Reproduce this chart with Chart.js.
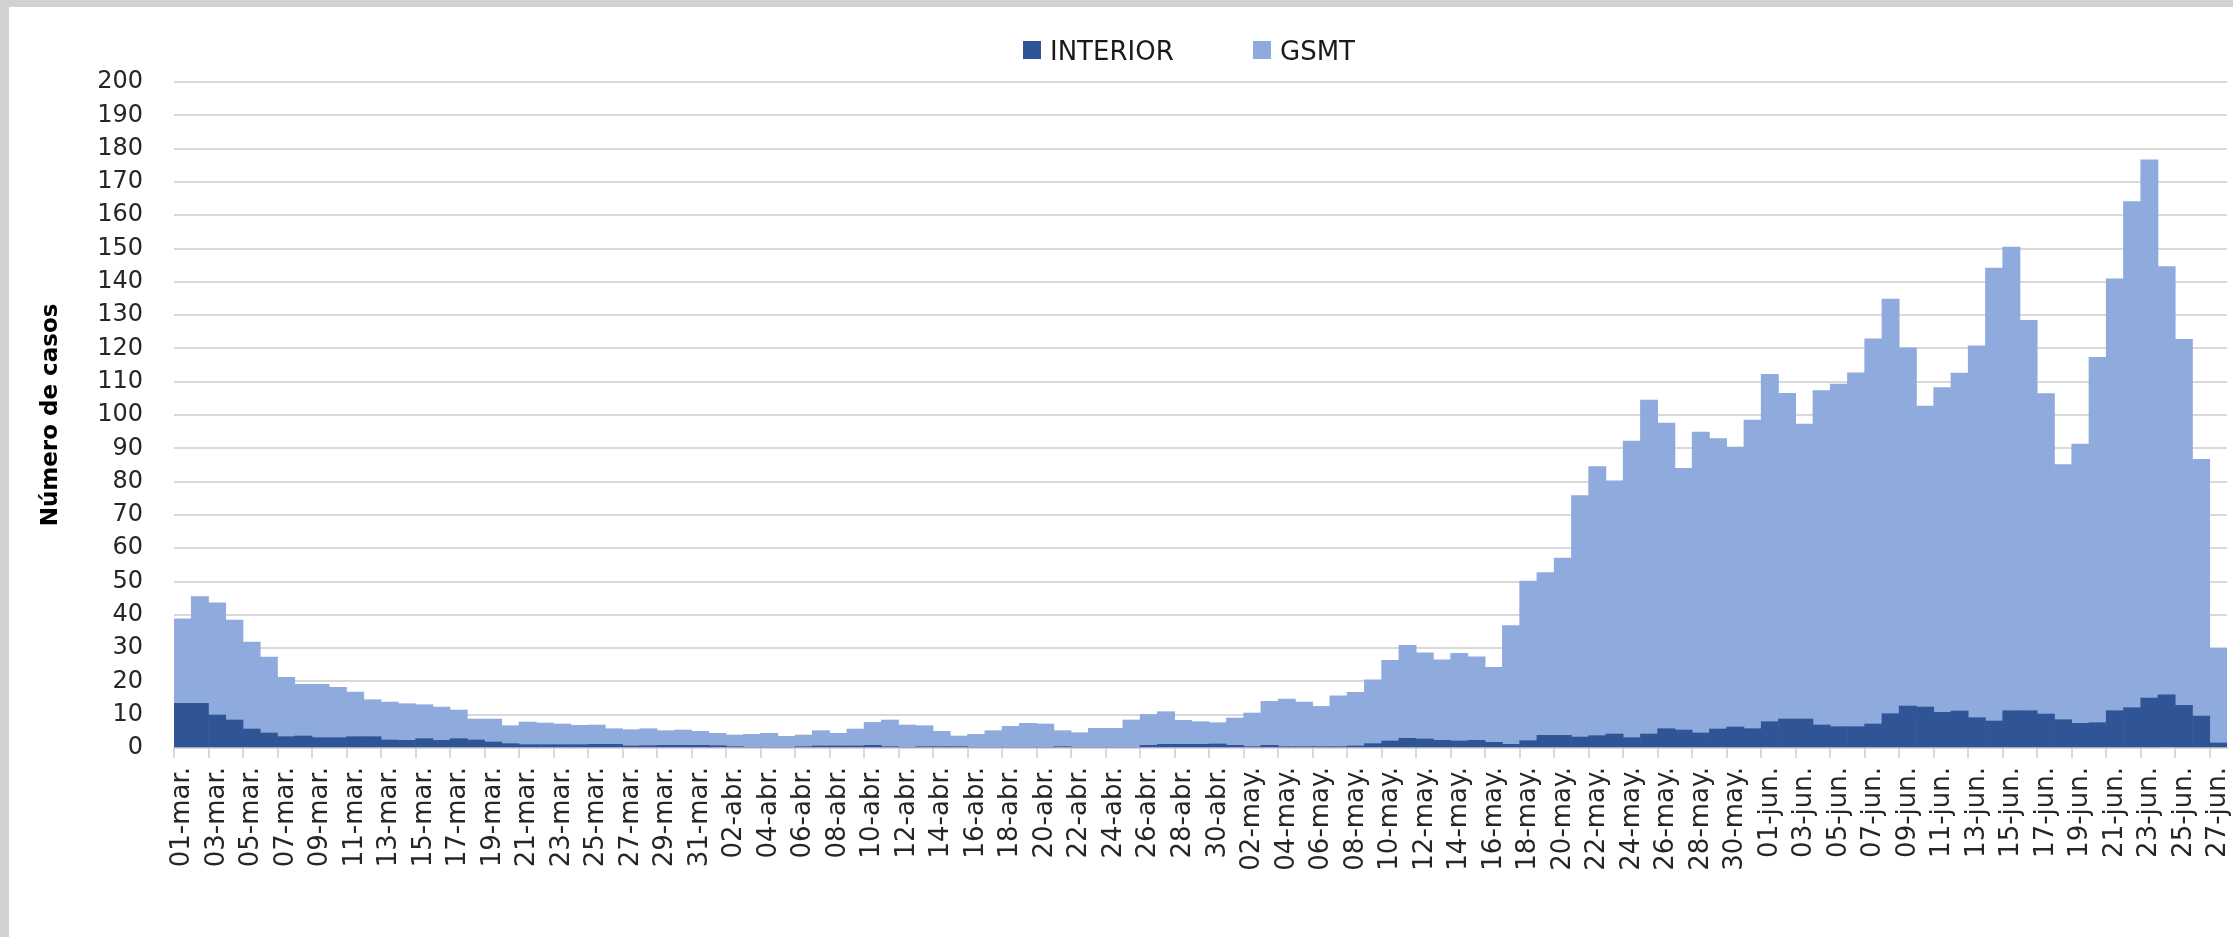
<!DOCTYPE html>
<html>
<head>
<meta charset="utf-8">
<script src="https://cdn.jsdelivr.net/npm/chart.js@4/dist/chart.umd.min.js"></script>
<style>
html,body{margin:0;padding:0;width:2233px;height:937px;overflow:hidden;background:#d2d2d2;}
#frame{position:absolute;left:9px;top:7px;width:2224px;height:930px;background:#ffffff;}
#frame canvas{position:absolute;left:0;top:0;}
.lgbox{position:absolute;width:18px;height:18px;top:41px;}
.lgtxt{position:absolute;top:36px;line-height:30px;font-family:"DejaVu Sans";font-size:26px;color:#1a1a1a;white-space:nowrap;}
</style>
</head>
<body>
<div id="frame"><canvas id="c" width="2224" height="930"></canvas></div>
<div class="lgbox" style="left:1023px;background:#2F5597"></div>
<div class="lgtxt" style="left:1050px">INTERIOR</div>
<div class="lgbox" style="left:1253px;background:#8FAADC"></div>
<div class="lgtxt" style="left:1280px">GSMT</div>
<script>
const categories = [
 "01-mar.","02-mar.","03-mar.","04-mar.","05-mar.","06-mar.","07-mar.","08-mar.","09-mar.","10-mar.",
 "11-mar.","12-mar.","13-mar.","14-mar.","15-mar.","16-mar.","17-mar.","18-mar.","19-mar.","20-mar.",
 "21-mar.","22-mar.","23-mar.","24-mar.","25-mar.","26-mar.","27-mar.","28-mar.","29-mar.","30-mar.","31-mar.",
 "01-abr.","02-abr.","03-abr.","04-abr.","05-abr.","06-abr.","07-abr.","08-abr.","09-abr.","10-abr.",
 "11-abr.","12-abr.","13-abr.","14-abr.","15-abr.","16-abr.","17-abr.","18-abr.","19-abr.","20-abr.",
 "21-abr.","22-abr.","23-abr.","24-abr.","25-abr.","26-abr.","27-abr.","28-abr.","29-abr.","30-abr.",
 "01-may.","02-may.","03-may.","04-may.","05-may.","06-may.","07-may.","08-may.","09-may.","10-may.",
 "11-may.","12-may.","13-may.","14-may.","15-may.","16-may.","17-may.","18-may.","19-may.","20-may.",
 "21-may.","22-may.","23-may.","24-may.","25-may.","26-may.","27-may.","28-may.","29-may.","30-may.","31-may.",
 "01-jun.","02-jun.","03-jun.","04-jun.","05-jun.","06-jun.","07-jun.","08-jun.","09-jun.","10-jun.",
 "11-jun.","12-jun.","13-jun.","14-jun.","15-jun.","16-jun.","17-jun.","18-jun.","19-jun.","20-jun.",
 "21-jun.","22-jun.","23-jun.","24-jun.","25-jun.","26-jun.","27-jun."
];

const interior = [
 13.4,13.4,9.9,8.4,5.7,4.5,3.4,3.6,3.1,3.1,
 3.4,3.4,2.4,2.3,2.8,2.3,2.8,2.4,1.8,1.3,
 1.0,1.0,1.0,1.0,1.1,1.1,0.6,0.7,0.8,0.8,0.8,
 0.7,0.4,0,0,0,0.4,0.6,0.6,0.6,0.8,
 0.4,0,0.4,0.4,0.4,0,0,0,0,0,
 0.4,0,0,0,0,0.8,1.1,1.1,1.1,1.2,
 0.8,0.4,0.8,0.4,0.4,0.4,0.4,0.6,1.3,2.1,
 2.9,2.7,2.3,2.1,2.3,1.7,1.1,2.2,3.8,3.8,
 3.3,3.7,4.2,3.1,4.2,5.8,5.4,4.5,5.7,6.3,5.8,
 7.9,8.7,8.7,6.9,6.4,6.4,7.2,10.3,12.6,12.3,
 10.7,11.1,9.1,8.1,11.2,11.2,10.2,8.5,7.4,7.6,
 11.2,12.1,15.0,16.0,12.8,9.6,1.5
];

const gsmt = [
 25.4,32.1,33.7,30.0,26.1,22.8,17.8,15.5,16.0,15.1,
 13.4,11.1,11.4,11.0,10.2,10.0,8.6,6.3,6.9,5.4,
 6.8,6.5,6.2,5.8,5.8,4.7,4.9,5.1,4.4,4.6,4.2,
 3.7,3.5,4.1,4.4,3.5,3.5,4.6,3.8,5.1,6.9,
 8.0,6.9,6.3,4.6,3.2,4.1,5.2,6.5,7.4,7.2,
 4.8,4.6,5.9,5.9,8.4,9.3,9.8,7.2,6.8,6.4,
 8.2,10.1,13.2,14.3,13.4,12.1,15.3,16.1,19.2,24.2,
 27.9,25.9,24.2,26.3,25.1,22.5,35.7,47.9,48.9,53.2,
 72.5,80.8,76.0,89.1,100.3,91.8,78.6,90.4,87.2,84.1,92.7,
 104.3,97.8,88.6,100.4,102.9,106.3,115.7,124.5,107.6,90.4,
 97.5,101.5,111.7,136.0,139.2,117.2,96.2,76.6,83.9,109.7,
 129.7,152.0,161.6,128.6,109.9,77.1,28.4
];

const yTicksMin = 0, yTicksMax = 200, yTickStep = 10;
const seriesNames = ["INTERIOR", "GSMT"];
const axisTitle = "Número de casos";

const yTickFont = {family: "DejaVu Sans", size: 24};
const xTickFont = {family: "DejaVu Sans", size: 26};
const gridColor = "#d9d9d9";

new Chart(document.getElementById("c"), {
  type: "bar",
  data: {
    labels: categories,
    datasets: [
      {label: seriesNames[0], data: interior, backgroundColor: "#2F5597", borderWidth: 0},
      {label: seriesNames[1], data: gsmt, backgroundColor: "#8FAADC", borderWidth: 0}
    ]
  },
  options: {
    responsive: false,
    animation: false,
    layout: {padding: {top: 75, right: 6, left: 0, bottom: 0}},
    datasets: {bar: {barPercentage: 1, categoryPercentage: 1}},
    plugins: {legend: {display: false}, tooltip: {enabled: false}},
    scales: {
      x: {
        stacked: true,
        grid: {
          offset: true,
          drawOnChartArea: false,
          color: (c) => (c.index % 2 === 0 ? gridColor : "rgba(0,0,0,0)"),
          lineWidth: 2,
          tickLength: 10
        },
        border: {color: gridColor, width: 2},
        ticks: {
          autoSkip: false,
          minRotation: 90,
          maxRotation: 90,
          padding: 9,
          font: xTickFont,
          color: "#262626",
          callback: (v, i) => (i % 2 === 0 ? categories[i] : "")
        },
        afterFit: (s) => { s.height = 189; s.paddingLeft = 0; s.paddingRight = 0; }
      },
      y: {
        stacked: true,
        min: yTicksMin,
        max: yTicksMax,
        ticks: {stepSize: yTickStep, padding: 31, font: yTickFont, color: "#262626"},
        grid: {color: gridColor, lineWidth: 2, drawTicks: false},
        border: {display: false},
        title: {
          display: true,
          text: axisTitle,
          font: {family: "DejaVu Sans", size: 23, weight: "bold"},
          color: "#000000",
          padding: {top: 28, bottom: 0}
        },
        afterFit: (s) => { s.width = 165; s.paddingTop = 0; s.paddingBottom = 0; }
      }
    }
  }
});
</script>
</body>
</html>
